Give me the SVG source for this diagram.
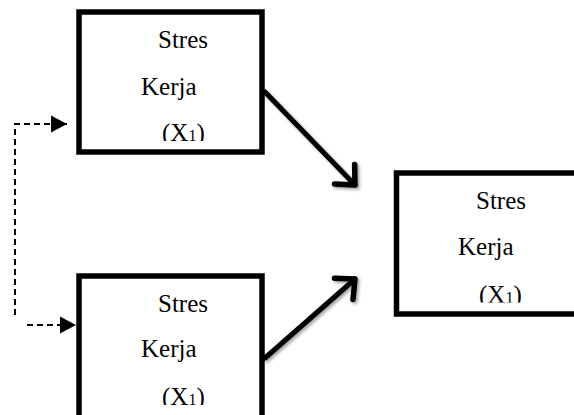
<svg xmlns="http://www.w3.org/2000/svg" width="574" height="415" viewBox="0 0 574 415">
<style>
.box{fill:#fff;stroke:#000;stroke-width:5.5}
.t{font-family:"Liberation Serif","Times New Roman",serif;font-size:25px;fill:#000}
.sub{font-size:16px}
.main{fill:none;stroke:#000;stroke-width:5;stroke-linecap:round}
.dash{fill:none;stroke:#000;stroke-width:2;stroke-dasharray:6 4}
</style>
<defs>
<marker id="chev" markerUnits="userSpaceOnUse" markerWidth="40" markerHeight="40" viewBox="-20 -20 40 40" refX="0" refY="0" orient="auto" overflow="visible">
<path d="M-15,-14 L0,0 L-15,14" fill="none" stroke="#000" stroke-width="5.5" stroke-linecap="round" stroke-linejoin="round"/>
</marker>
<marker id="tri" markerUnits="userSpaceOnUse" markerWidth="24" markerHeight="24" viewBox="-20 -12 24 24" refX="0" refY="0" orient="auto" overflow="visible">
<path d="M-16,-8.5 L0,0 L-16,8.5 Z" fill="#000"/>
</marker>
<filter id="sh" x="-20%" y="-20%" width="140%" height="140%">
<feDropShadow dx="2" dy="2" stdDeviation="1.5" flood-color="#000" flood-opacity="0.35"/>
</filter>
<clipPath id="c1"><rect x="80" y="0" width="180" height="141"/></clipPath>
<clipPath id="c2"><rect x="80" y="270" width="180" height="135"/></clipPath>
<clipPath id="c3"><rect x="398" y="170" width="180" height="132.5"/></clipPath>
</defs>
<g id="connectors">
<path class="main" filter="url(#sh)" d="M265,92 L355,185" marker-end="url(#chev)"/>
<path class="main" filter="url(#sh)" d="M265,358 L355,279" marker-end="url(#chev)"/>
<path class="dash" d="M15,315 L15,124 L67,124" marker-end="url(#tri)"/>
<path class="dash" d="M27,325 L76,325" marker-end="url(#tri)"/>
</g>
<g id="node-x1-top">
<rect class="box" x="79" y="12" width="183" height="140"/>
<text class="t" x="158" y="48">Stres</text>
<text class="t" x="141" y="95">Kerja</text>
<text class="t" x="162" y="141" clip-path="url(#c1)">(X<tspan class="sub">1</tspan>)</text>
</g>
<g id="node-x1-bottom">
<rect class="box" x="79" y="276" width="183" height="160"/>
<text class="t" x="158" y="312">Stres</text>
<text class="t" x="141" y="357">Kerja</text>
<text class="t" x="162" y="405" clip-path="url(#c2)">(X<tspan class="sub">1</tspan>)</text>
</g>
<g id="node-y">
<rect class="box" x="396.5" y="173" width="200" height="141"/>
<text class="t" x="476" y="209">Stres</text>
<text class="t" x="458" y="255">Kerja</text>
<text class="t" x="479" y="302.5" clip-path="url(#c3)">(X<tspan class="sub">1</tspan>)</text>
</g>
</svg>
